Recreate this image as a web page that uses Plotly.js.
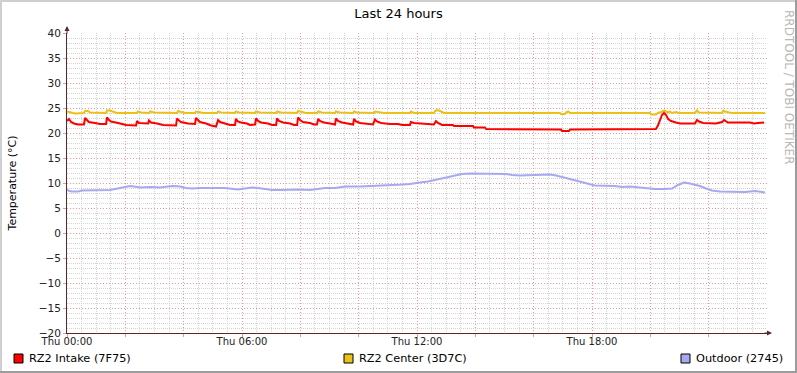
<!DOCTYPE html>
<html>
<head>
<meta charset="utf-8">
<script src="https://cdn.plot.ly/plotly-3.0.1.min.js"></script>
<style>
html,body{margin:0;padding:0;background:#fff;}
#chart{width:797px;height:373px;}
</style>
</head>
<body>
<div id="chart"></div>
<script>
// ---- data (time in hours since Thu 00:00, values in °C) ----
const intakeT = [0.00,0.07,0.14,0.24,0.38,0.58,0.62,0.69,0.75,0.96,1.13,1.34,1.37,1.44,1.51,1.75,2.02,2.37,2.40,2.47,2.78,2.81,2.88,3.09,3.29,3.74,3.77,3.84,3.91,4.15,4.39,4.42,4.49,4.56,4.77,4.94,5.11,5.18,5.25,5.45,5.59,5.76,5.79,5.86,5.97,6.17,6.27,6.45,6.48,6.55,6.65,6.89,7.03,7.17,7.20,7.27,7.41,7.65,7.78,7.89,7.92,7.99,8.09,8.33,8.47,8.57,8.61,8.67,8.81,9.02,9.19,9.22,9.29,9.43,9.63,9.81,9.84,9.91,10.05,10.25,10.49,10.56,10.63,10.77,11.07,11.35,11.49,11.76,11.79,11.90,12.10,12.38,12.58,12.65,12.72,12.86,13.23,13.27,13.92,13.95,14.33,14.37,15.53,15.57,16.94,16.97,17.21,17.25,18.27,18.45,19.65,19.99,20.19,20.26,20.33,20.40,20.47,20.54,20.61,20.71,20.88,21.02,21.53,21.60,21.67,21.81,22.25,22.46,22.53,22.59,22.66,23.42,23.55,23.69,23.90];
const intakeV = [22.4,22.8,22.2,21.9,21.7,21.7,23.0,22.6,22.2,22.0,21.8,21.8,23.1,22.6,22.3,22.0,21.6,21.5,22.4,22.0,21.9,22.5,22.1,21.9,21.6,21.5,22.9,22.5,22.2,21.9,21.8,23.0,22.5,22.2,21.9,21.5,21.3,22.6,22.2,21.9,21.6,21.6,22.8,22.3,22.1,21.9,21.6,21.7,22.9,22.4,22.1,21.9,21.6,21.6,22.9,22.4,22.1,21.9,21.6,21.6,23.1,22.6,22.2,22.0,21.7,21.7,22.8,22.4,22.1,21.9,21.7,22.9,22.4,22.1,21.9,21.7,22.8,22.3,22.0,21.8,21.7,22.7,22.3,22.0,21.8,21.8,21.6,21.6,22.2,22.0,21.9,21.7,21.7,22.4,22.0,21.6,21.6,21.4,21.4,21.1,21.1,20.8,20.8,20.7,20.7,20.4,20.4,20.7,20.7,20.8,20.8,20.7,20.8,21.5,22.8,23.6,24.0,23.6,22.8,22.4,22.1,21.9,21.9,22.6,22.3,22.0,21.9,22.2,22.6,22.3,22.1,22.1,21.9,22.0,22.1];

const centerT = [0.00,0.10,0.27,0.58,0.62,0.72,0.79,1.34,1.37,1.47,1.58,1.71,2.40,2.43,2.54,2.81,2.85,2.98,3.77,3.81,3.91,4.05,4.39,4.42,4.53,4.66,5.14,5.18,5.28,5.76,5.79,5.90,6.45,6.48,6.62,7.17,7.20,7.34,7.89,7.92,8.06,8.19,8.57,8.61,8.74,9.19,9.22,9.36,9.81,9.84,9.94,10.53,10.56,10.70,10.87,11.76,11.79,11.90,12.58,12.62,12.69,12.79,12.86,12.93,16.90,16.94,17.07,17.11,17.18,17.25,19.99,20.02,20.19,20.26,20.37,20.47,20.54,20.61,20.67,20.74,20.88,20.95,21.53,21.60,21.67,22.46,22.49,22.63,22.70,22.83,23.93];
const centerV = [24.3,24.1,23.9,24.0,24.4,24.4,24.1,24.0,24.5,24.5,24.2,24.0,24.0,24.3,24.1,24.0,24.3,24.1,24.0,24.4,24.2,24.0,24.0,24.3,24.2,24.0,24.0,24.3,24.1,24.0,24.3,24.1,24.0,24.3,24.1,24.0,24.3,24.1,24.0,24.4,24.2,24.0,24.0,24.3,24.1,24.0,24.3,24.1,24.0,24.3,24.1,24.0,24.3,24.1,24.0,24.0,24.3,24.0,24.0,24.4,24.6,24.4,24.2,24.0,24.0,23.8,23.8,24.1,24.3,24.0,24.0,23.7,23.7,24.0,24.2,24.5,24.3,24.1,24.3,24.0,24.2,24.0,24.0,24.5,24.1,24.0,24.4,24.3,24.1,24.0,24.0];

const outdoorT = [0.00,0.07,0.17,0.38,0.51,0.96,1.13,1.47,1.65,1.82,2.02,2.16,2.30,2.50,2.85,3.19,3.46,3.63,3.87,4.08,4.29,4.56,5.42,5.66,5.86,6.10,6.34,6.55,6.79,7.03,7.30,7.65,7.99,8.33,8.61,8.85,9.19,9.53,10.05,10.56,10.90,11.18,11.52,11.76,11.93,12.10,12.38,12.62,12.86,13.06,13.30,13.54,13.82,14.85,15.05,15.26,15.53,16.05,16.56,16.77,16.97,17.18,17.42,17.66,17.86,18.10,18.79,19.03,19.30,19.65,19.92,20.16,20.50,20.74,20.95,21.15,21.36,21.53,21.70,21.91,22.11,22.39,23.25,23.59,23.76,23.93];
const outdoorV = [8.7,8.4,8.3,8.3,8.5,8.5,8.6,8.6,8.8,9.0,9.2,9.4,9.3,9.1,9.2,9.1,9.3,9.4,9.3,9.0,8.9,9.0,9.0,8.8,8.7,8.9,9.1,9.0,8.8,8.6,8.6,8.7,8.7,8.6,8.8,9.0,9.0,9.3,9.3,9.4,9.5,9.6,9.7,9.8,10.0,10.1,10.3,10.6,11.0,11.3,11.6,11.8,11.9,11.9,11.8,11.6,11.5,11.6,11.7,11.5,11.2,10.9,10.5,10.1,9.8,9.5,9.4,9.2,9.3,9.1,9.0,8.8,8.8,8.9,9.6,10.1,9.9,9.7,9.4,8.9,8.5,8.3,8.2,8.4,8.2,8.1];

const seriesNames = ['RZ2 Intake (7F75)', 'RZ2 Center (3D7C)', 'Outdoor (2745)'];
const seriesColors = ['#FF0000', '#EAC117', '#A8A8F0'];
const xTickVals = [0,2,4,6,8,10,12,14,16,18,20,22];
const xTickText = ['Thu 00:00','','','Thu 06:00','','','Thu 12:00','','','Thu 18:00','',''];
const xMinorVals = [0.5,1,1.5,2.5,3,3.5,4.5,5,5.5,6.5,7,7.5,8.5,9,9.5,10.5,11,11.5,12.5,13,13.5,14.5,15,15.5,16.5,17,17.5,18.5,19,19.5,20.5,21,21.5,22.5,23,23.5];

// ---- layout helpers (pixel -> paper, for decorations only) ----
const W = 797, H = 373, ML = 67, MR = 30, MT = 33, MB = 40;
const PW = W - ML - MR, PH = H - MT - MB;
const px = x => (x - ML) / PW;
const py = y => (H - MB - y) / PH;

const font = 'DejaVu Sans, sans-serif';
const majorGrid = '#eb9a9a';
const minorGrid = '#d4d4d4';
const axisCol = '#5a2828';

const traces = [
  {x: intakeT, y: intakeV},
  {x: centerT, y: centerV},
  {x: outdoorT, y: outdoorV}
].map((d, i) => ({
  x: d.x, y: d.y, type: 'scatter', mode: 'lines', name: seriesNames[i],
  line: {color: seriesColors[i], width: 2}, hoverinfo: 'skip'
}));
const ordered = [traces[2], traces[1], traces[0]];

const legendX = [14, 344, 681];
const shapes = [];
const annotations = [];
legendX.forEach((lx, i) => {
  shapes.push({type: 'rect', xref: 'paper', yref: 'paper',
    x0: px(lx), x1: px(lx + 9), y0: py(363), y1: py(354),
    fillcolor: seriesColors[i], line: {color: '#000', width: 1}});
  annotations.push({xref: 'paper', yref: 'paper', x: px(lx + 13), y: py(358.5),
    xanchor: 'left', yanchor: 'middle', text: seriesNames[i], showarrow: false,
    font: {family: font, size: 11.3, color: '#000'}});
});
// outer frame
shapes.push({type:'line', xref:'paper', yref:'paper', x0:px(0), x1:px(797), y0:py(1), y1:py(1), line:{color:'#cfcfcf', width:2}});
shapes.push({type:'line', xref:'paper', yref:'paper', x0:px(1), x1:px(1), y0:py(0), y1:py(373), line:{color:'#cfcfcf', width:2}});
shapes.push({type:'line', xref:'paper', yref:'paper', x0:px(796), x1:px(796), y0:py(0), y1:py(373), line:{color:'#9c9c9c', width:2}});
shapes.push({type:'line', xref:'paper', yref:'paper', x0:px(0), x1:px(797), y0:py(372), y1:py(372), line:{color:'#9c9c9c', width:2}});

// axis arrows
annotations.push({xref:'paper', yref:'paper', x: px(67), y: py(26), ax: 0, ay: 9, text: '', showarrow: true,
  arrowhead: 2, arrowsize: 1, arrowwidth: 1, arrowcolor: axisCol});
annotations.push({xref:'paper', yref:'paper', x: px(772), y: py(333), ax: -9, ay: 0, text: '', showarrow: true,
  arrowhead: 2, arrowsize: 1, arrowwidth: 1, arrowcolor: axisCol});
// watermark
annotations.push({xref:'paper', yref:'paper', x: px(789), y: py(87), xanchor: 'center', yanchor: 'middle',
  text: 'RRDTOOL / TOBI OETIKER', textangle: 90, showarrow: false,
  font: {family: font, size: 12, color: '#b8b8b8'}});

const layout = {
  width: W, height: H,
  margin: {l: ML, r: MR, t: MT, b: MB, pad: 0},
  paper_bgcolor: '#ffffff', plot_bgcolor: '#ffffff',
  showlegend: false,
  font: {family: font, size: 10, color: '#222'},
  title: {text: 'Last 24 hours', font: {family: font, size: 13, color: '#000'},
    x: 0.5, xref: 'container', xanchor: 'center', y: 1 - 13 / H, yref: 'container', yanchor: 'middle'},
  xaxis: {
    range: [0, 24], fixedrange: true,
    tickmode: 'array', tickvals: xTickVals, ticktext: xTickText,
    ticks: 'outside', ticklen: 3, tickcolor: majorGrid, tickwidth: 1,
    ticklabelstandoff: -4,
    showgrid: true, gridcolor: majorGrid, griddash: '1px,2px', gridwidth: 1,
    minor: {tickvals: xMinorVals, showgrid: true, gridcolor: minorGrid, griddash: '1px,1px', gridwidth: 1, ticks: ''},
    showline: true, linecolor: axisCol, linewidth: 1, zeroline: false,
    tickfont: {family: font, size: 10, color: '#222'}
  },
  yaxis: {
    range: [-20, 40], fixedrange: true,
    dtick: 5, tick0: 0,
    ticks: 'outside', ticklen: 3, tickcolor: majorGrid,
    showgrid: true, gridcolor: majorGrid, griddash: '1px,2px', gridwidth: 1,
    minor: {dtick: 1, showgrid: true, gridcolor: minorGrid, griddash: '1px,1px', gridwidth: 1, ticks: ''},
    showline: true, linecolor: axisCol, linewidth: 1, zeroline: false,
    tickfont: {family: font, size: 10.5, color: '#222'},
    title: {text: 'Temperature (°C)', font: {family: font, size: 11, color: '#000'}, standoff: 19}
  },
  shapes: shapes,
  annotations: annotations
};

Plotly.newPlot('chart', ordered, layout, {displayModeBar: false, staticPlot: true});
</script>
</body>
</html>
